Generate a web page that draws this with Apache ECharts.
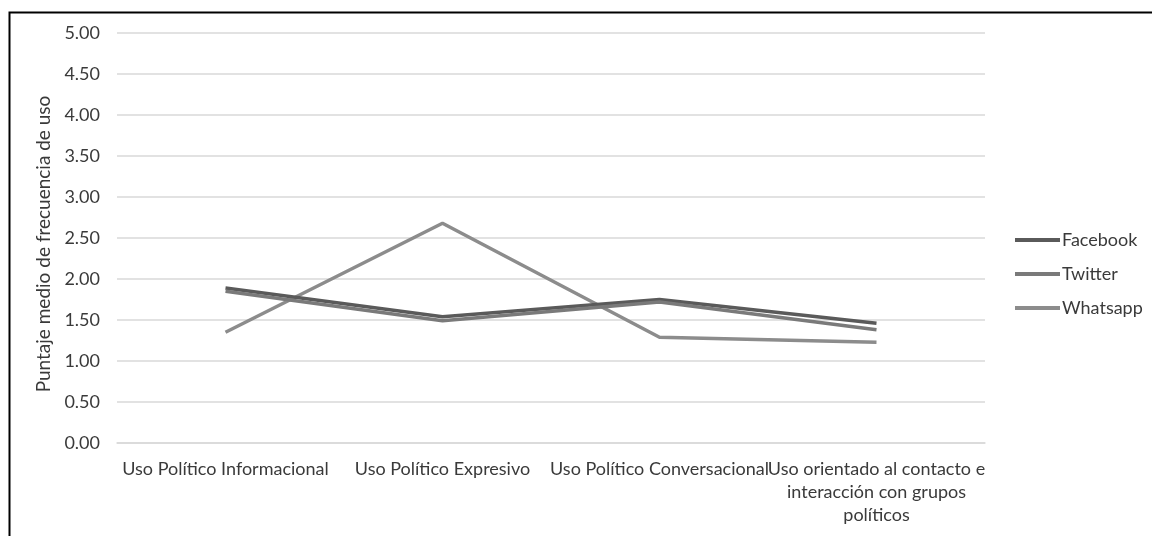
<!DOCTYPE html>
<html>
<head>
<meta charset="utf-8">
<script src="https://cdn.jsdelivr.net/npm/echarts@6/dist/echarts.min.js"></script>
<style>html,body{margin:0;padding:0;background:#fff}#c{width:1152px;height:536px}</style>
</head>
<body>
<div id="c"></div>
<script>
const categories = [
  'Uso Político Informacional',
  'Uso Político Expresivo',
  'Uso Político Conversacional',
  'Uso orientado al contacto e\ninteracción con grupos\npolíticos'
];
const facebook = [1.89, 1.54, 1.75, 1.46];
const twitter  = [1.85, 1.49, 1.72, 1.38];
const whatsapp = [1.35, 2.68, 1.29, 1.23];
const yTicks = { min: 0, max: 5, interval: 0.5 };
const yName = 'Puntaje medio de frecuencia de uso';

const font = 'Lato';
const txt = '#3a3a3a';
const chart = echarts.init(document.getElementById('c'), null, { renderer: 'canvas' });
chart.setOption({
  backgroundColor: '#ffffff',
  animation: false,
  textStyle: { fontFamily: font },
  graphic: [{
    type: 'rect', left: 7, top: 10, z: 100,
    shape: { x: 0, y: 0, width: 1200, height: 600 },
    style: { fill: 'none', stroke: '#000', lineWidth: 2 }
  }],
  grid: { left: 117, right: 167, top: 33, bottom: 93, containLabel: false },
  legend: {
    orient: 'vertical', left: 1015, top: 231, padding: 0,
    icon: 'rect', itemWidth: 45, itemHeight: 4, itemGap: 16,
    textStyle: { fontFamily: font, fontSize: 18, color: txt, padding: [0, 0, 0, -3] },
    data: ['Facebook', 'Twitter', 'Whatsapp']
  },
  xAxis: {
    type: 'category', data: categories, boundaryGap: true,
    axisLine: { show: true, lineStyle: { color: '#d9d9d9', width: 1.5 } },
    axisTick: { show: false },
    axisLabel: { interval: 0, margin: 15, fontFamily: font, fontSize: 18, color: txt, lineHeight: 23 }
  },
  yAxis: {
    type: 'value', min: yTicks.min, max: yTicks.max, interval: yTicks.interval,
    name: yName, nameLocation: 'middle', nameGap: 64, nameRotate: 90,
    nameTextStyle: { fontFamily: font, fontSize: 19, color: txt, padding: [0, 12, 0, 0] },
    axisLine: { show: false }, axisTick: { show: false },
    axisLabel: { margin: 17, fontFamily: font, fontSize: 18, color: txt, formatter: v => v.toFixed(2) },
    splitLine: { lineStyle: { color: '#d9d9d9', width: 1.5 } }
  },
  series: [
    { name: 'Facebook', type: 'line', data: facebook, symbol: 'none', color: '#5a5a5a', lineStyle: { width: 3.5, color: '#5a5a5a' }, z: 3 },
    { name: 'Twitter', type: 'line', data: twitter, symbol: 'none', color: '#7a7a7a', lineStyle: { width: 3.5, color: '#7a7a7a' }, z: 4 },
    { name: 'Whatsapp', type: 'line', data: whatsapp, symbol: 'none', color: '#8c8c8c', lineStyle: { width: 3.5, color: '#8c8c8c' }, z: 2 }
  ]
});
</script>
</body>
</html>
